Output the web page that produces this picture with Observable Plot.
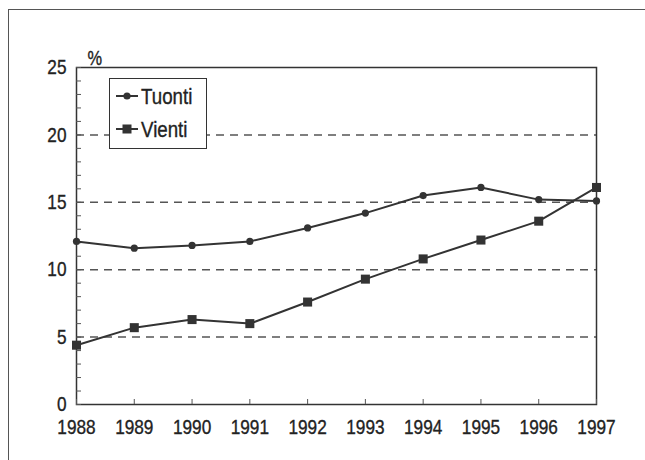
<!DOCTYPE html>
<html>
<head>
<meta charset="utf-8">
<script src="https://cdn.jsdelivr.net/npm/d3@7"></script>
<script src="https://cdn.jsdelivr.net/npm/@observablehq/plot@0.6"></script>
<style>
  html, body { margin: 0; padding: 0; background: #fff; }
  #wrap { position: relative; width: 645px; height: 460px; overflow: hidden; }
  #outer { position: absolute; left: 8px; top: 9px; width: 700px; height: 500px;
           border-left: 1.5px solid #555; border-top: 1.5px solid #555; }
  #chart { position: absolute; left: 0; top: 0; }
  #legend { position: absolute; left: 109px; top: 78px; width: 96px; height: 69px;
            border: 1.5px solid #333; background: #fff; }
  #wrap text { stroke: #222; stroke-width: 0.35px; paint-order: stroke; }
</style>
</head>
<body>
<div id="wrap">
  <div id="outer"></div>
  <div id="chart"></div>
  <div id="legend"></div>
</div>
<script>
const years = [1988, 1989, 1990, 1991, 1992, 1993, 1994, 1995, 1996, 1997];
const tuonti = [12.1, 11.6, 11.8, 12.1, 13.1, 14.2, 15.5, 16.1, 15.2, 15.1];
const vienti = [4.4, 5.7, 6.3, 6.0, 7.6, 9.3, 10.8, 12.2, 13.6, 16.1];
const seriesNames = ["Tuonti", "Vienti"];
const yTicks = [0, 5, 10, 15, 20, 25];
const gridValues = [5, 10, 15, 20];
const yUnit = "%";

const dataT = years.map((y, i) => ({year: y, value: tuonti[i], series: seriesNames[0]}));
const dataV = years.map((y, i) => ({year: y, value: vienti[i], series: seriesNames[1]}));

const ink = "#333";
const font = '"Liberation Sans", Arial, sans-serif';
const blank = () => "";

const chart = Plot.plot({
  width: 645,
  height: 460,
  marginLeft: 76,
  marginRight: 49,
  marginTop: 67,
  marginBottom: 56,
  style: {fontFamily: font, fontSize: "21px", color: "#222", background: "transparent"},
  x: {domain: [1988, 1997]},
  y: {domain: [0, 25]},
  marks: [
    Plot.ruleY(gridValues, {stroke: "#555", strokeWidth: 1.5, strokeDasharray: "8,6"}),
    Plot.frame({stroke: ink, strokeWidth: 1.5}),
    // minor inward ticks (no labels)
    Plot.axisY(d3.range(0, 26), {tickSize: -5, tickFormat: blank, label: null, stroke: "#555", strokeWidth: 1}),
    Plot.axisX(years, {tickSize: -5, tickFormat: blank, label: null, stroke: "#555", strokeWidth: 1}),
    // tick labels
    Plot.axisY(yTicks, {tickSize: 0, tickPadding: 10, label: null, fontSize: 21}),
    Plot.axisX(years, {tickSize: 0, tickPadding: 15, tickFormat: d => String(d), label: null, fontSize: 21}),
    Plot.text([yUnit], {frameAnchor: "top-left", dx: 11, dy: -17, fontSize: 20, fill: "#222"}),
    Plot.line(dataT, {x: "year", y: "value", stroke: ink, strokeWidth: 2}),
    Plot.line(dataV, {x: "year", y: "value", stroke: ink, strokeWidth: 2}),
    Plot.dot(dataT, {x: "year", y: "value", r: 3.6, fill: ink, stroke: "none"}),
    Plot.dot(dataV, {x: "year", y: "value", r: 5.1, symbol: "square", fill: ink, stroke: "none"})
  ]
});
document.getElementById("chart").appendChild(chart);

// legend
const lg = d3.select("#legend").append("svg").attr("width", 96).attr("height", 69)
  .style("position", "absolute").style("left", "0").style("top", "0");
const rows = [{name: seriesNames[0], y: 17, sym: "circle"}, {name: seriesNames[1], y: 50, sym: "square"}];
rows.forEach(r => {
  lg.append("line").attr("x1", 6).attr("x2", 28).attr("y1", r.y).attr("y2", r.y)
    .attr("stroke", ink).attr("stroke-width", 2);
  if (r.sym === "circle") {
    lg.append("circle").attr("cx", 17).attr("cy", r.y).attr("r", 3.6).attr("fill", ink);
  } else {
    lg.append("rect").attr("x", 12.5).attr("y", r.y - 4.5).attr("width", 9).attr("height", 9).attr("fill", ink);
  }
  lg.append("text").attr("x", 31).attr("y", r.y).attr("dy", "0.36em")
    .attr("font-family", font).attr("font-size", 22).attr("fill", "#222").text(r.name);
});

// condense text horizontally to mimic a condensed typeface
function condense(sel, factor) {
  sel.forEach(t => {
    if (!t.textContent) return;
    const len = t.getComputedTextLength();
    if (len > 0) {
      t.setAttribute("textLength", (len * factor).toFixed(2));
      t.setAttribute("lengthAdjust", "spacingAndGlyphs");
    }
  });
}
condense(chart.querySelectorAll("text"), 0.82);
condense(document.querySelectorAll("#legend text"), 0.85);
</script>
</body>
</html>
